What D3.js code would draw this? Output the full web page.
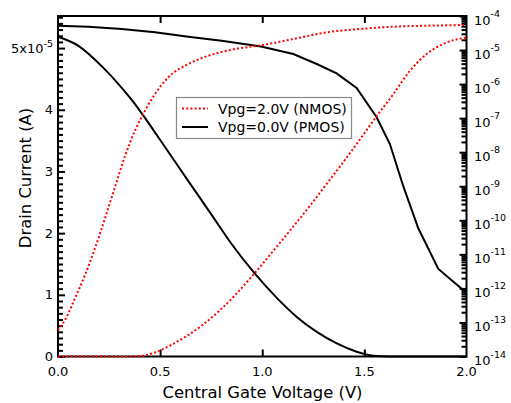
<!DOCTYPE html>
<html lang="en">
<head>
<meta charset="utf-8">
<script src="https://cdn.jsdelivr.net/npm/d3@7"></script>
<style type="text/css">
body {
	margin: 0;
	background-color: #ffffff;
}
svg text {
	font-family: "DejaVu Sans", sans-serif;
	fill: #000;
}
.tick-label { font-size: 13px; }
.sup { font-size: 9.5px; }
.axis-title { font-size: 16.4px; }
.legend-text { font-size: 14px; }
</style>
</head>
<body>
<script type="text/javascript">

// ---- data ----
// NMOS, Vpg = 2.0 V, drain current in A (linear axis)
var nmosLinV = [0, 0.377, 0.426, 0.475, 0.540, 0.622, 0.704, 0.785, 0.867, 0.948, 1.071, 1.152, 1.234, 1.323, 1.414, 1.479, 1.560, 1.642, 1.723, 1.805, 1.903, 2.0];
var nmosLinI = [0, 0, 0.019e-5, 0.065e-5, 0.162e-5, 0.316e-5, 0.502e-5, 0.726e-5, 0.994e-5, 1.294e-5, 1.780e-5, 2.107e-5, 2.446e-5, 2.831e-5, 3.228e-5, 3.522e-5, 3.895e-5, 4.254e-5, 4.632e-5, 4.903e-5, 5.092e-5, 5.17e-5];

// NMOS, Vpg = 2.0 V, drain current in A (log axis)
var nmosLogV = [0, 0.034, 0.083, 0.132, 0.181, 0.230, 0.279, 0.328, 0.377, 0.426, 0.475, 0.540, 0.638, 0.736, 0.867, 0.994, 1.152, 1.316, 1.479, 1.642, 1.805, 2.0];
var nmosLogI = [6.0e-14, 1.17e-13, 5.1e-13, 2.45e-12, 1.51e-11, 1.15e-10, 9.5e-10, 7.7e-9, 4.3e-8, 1.66e-7, 5.1e-7, 1.58e-6, 3.9e-6, 6.8e-6, 1.07e-5, 1.38e-5, 2.11e-5, 3.32e-5, 4.15e-5, 4.85e-5, 5.19e-5, 5.45e-5];

// PMOS, Vpg = 0.0 V, drain current in A (linear axis)
var pmosLinV = [0, 0.10, 0.22, 0.31, 0.377, 0.418, 0.508, 0.655, 0.753, 0.850, 0.961, 1.071, 1.169, 1.267, 1.365, 1.462, 1.544, 1.626, 2.0];
var pmosLinI = [5.183e-5, 5.037e-5, 4.687e-5, 4.364e-5, 4.092e-5, 3.904e-5, 3.473e-5, 2.763e-5, 2.293e-5, 1.824e-5, 1.354e-5, 0.950e-5, 0.642e-5, 0.399e-5, 0.212e-5, 0.078e-5, 0.013e-5, 0, 0];

// PMOS, Vpg = 0.0 V, drain current in A (log axis)
var pmosLogV = [0, 0.148, 0.312, 0.475, 0.638, 0.801, 0.994, 1.152, 1.267, 1.364, 1.462, 1.56, 1.625, 1.69, 1.764, 1.862, 1.984, 2.0];
var pmosLogI = [5.19e-5, 4.85e-5, 4.15e-5, 3.32e-5, 2.47e-5, 1.88e-5, 1.27e-5, 7.66e-6, 3.89e-6, 2.07e-6, 7.67e-7, 1.06e-7, 1.74e-8, 1.02e-9, 5.82e-11, 3.72e-12, 8.97e-13, 8.3e-13];

var xTicks = [0, 0.5, 1.0, 1.5, 2.0];
var xTickLabels = ["0.0", "0.5", "1.0", "1.5", "2.0"];
var leftTicks = [0, 1e-5, 2e-5, 3e-5, 4e-5, 5e-5];
var leftTickLabels = ["0", "1", "2", "3", "4", "5x10"];
var rightExponents = [-14, -13, -12, -11, -10, -9, -8, -7, -6, -5, -4];
var legendLabels = ["Vpg=2.0V (NMOS)", "Vpg=0.0V (PMOS)"];

// ---- layout ----
var width = 511, height = 403;
var plotL = 58, plotR = 466.5, plotT = 16, plotB = 356.5;

var svg = d3.select("body").append("svg")
	.attr("width", width)
	.attr("height", height);

var x = d3.scaleLinear().domain([0, 2]).range([plotL, plotR]);
var yLin = d3.scaleLinear().domain([0, 5.52e-5]).range([plotB, plotT]);
var yLog = d3.scaleLog().domain([1e-14, 1e-4]).range([plotB, plotT]);

// minor tick values
var leftMinor = d3.range(0, 56).map(function(i) { return i * 1e-6; })
	.filter(function(v, i) { return i % 10 != 0; });
var rightMinor = [];
rightExponents.slice(0, -1).forEach(function(e) {
	for (var m = 2; m <= 9; m++) rightMinor.push(m * Math.pow(10, e));
});
var rightMajor = rightExponents.map(function(e) { return Math.pow(10, e); });

function styleAxis(g) {
	g.select(".domain").remove();
	g.selectAll(".tick line").attr("stroke", "#000").attr("stroke-width", 2);
	g.selectAll(".tick text").remove();
}

// ticks (all pointing into the plot)
svg.append("g").attr("transform", "translate(" + plotL + ",0)")
	.call(d3.axisLeft(yLin).tickValues(leftTicks).tickSize(-7)).call(styleAxis);
svg.append("g").attr("transform", "translate(" + plotL + ",0)")
	.call(d3.axisLeft(yLin).tickValues(leftMinor).tickSize(-5)).call(styleAxis);
svg.append("g").attr("transform", "translate(" + plotR + ",0)")
	.call(d3.axisRight(yLog).tickValues(rightMajor).tickSize(-7)).call(styleAxis);
svg.append("g").attr("transform", "translate(" + plotR + ",0)")
	.call(d3.axisRight(yLog).tickValues(rightMinor).tickSize(-5)).call(styleAxis);
svg.append("g").attr("transform", "translate(0," + plotB + ")")
	.call(d3.axisBottom(x).tickValues([0.5, 1.0, 1.5]).tickSize(-7)).call(styleAxis);
svg.append("g").attr("transform", "translate(0," + plotT + ")")
	.call(d3.axisTop(x).tickValues([0.5, 1.0, 1.5]).tickSize(-7)).call(styleAxis);

// frame
svg.append("rect")
	.attr("x", plotL).attr("y", plotT)
	.attr("width", plotR - plotL).attr("height", plotB - plotT)
	.attr("fill", "none").attr("stroke", "#000").attr("stroke-width", 2);

// tick labels
svg.selectAll(".xlab").data(xTicks).enter().append("text")
	.attr("class", "tick-label")
	.attr("x", function(d) { return x(d); })
	.attr("y", plotB + 19.5)
	.attr("text-anchor", "middle")
	.text(function(d, i) { return xTickLabels[i]; });

var ll = svg.selectAll(".ylab").data(leftTicks).enter().append("text")
	.attr("class", "tick-label")
	.attr("x", plotL - 5)
	.attr("y", function(d) { return yLin(d) + 4.5; })
	.attr("text-anchor", "end")
	.text(function(d, i) { return leftTickLabels[i]; });
ll.filter(function(d) { return d == 5e-5; })
	.append("tspan").attr("class", "sup").attr("dy", -6).text("-5");

var rl = svg.selectAll(".rlab").data(rightExponents).enter().append("text")
	.attr("class", "tick-label")
	.attr("x", plotR + 7.5)
	.attr("y", function(d) { return yLog(Math.pow(10, d)) + 8.5; })
	.text("10");
rl.append("tspan").attr("class", "sup").attr("dy", -7.5).text(function(d) { return d; });

// axis titles
svg.append("text").attr("class", "axis-title")
	.attr("x", 262.5).attr("y", 398)
	.attr("text-anchor", "middle")
	.text("Central Gate Voltage (V)");
svg.append("text").attr("class", "axis-title")
	.attr("transform", "translate(31,178) rotate(-90)")
	.attr("text-anchor", "middle")
	.text("Drain Current (A)");

// curves
var lineLin = d3.line().x(function(d) { return x(d[0]); }).y(function(d) { return yLin(d[1]); });
var lineLog = d3.line().x(function(d) { return x(d[0]); }).y(function(d) { return yLog(d[1]); });

function pairs(vs, is) { return vs.map(function(v, i) { return [v, is[i]]; }); }

var dotted = "2,2.2";

svg.append("path")
	.attr("d", lineLin.curve(d3.curveMonotoneX)(pairs(pmosLinV, pmosLinI)))
	.attr("fill", "none").attr("stroke", "#000").attr("stroke-width", 2);
svg.append("path")
	.attr("d", lineLog.curve(d3.curveLinear)(pairs(pmosLogV, pmosLogI)))
	.attr("fill", "none").attr("stroke", "#000").attr("stroke-width", 2);
svg.append("path")
	.attr("d", lineLin.curve(d3.curveMonotoneX)(pairs(nmosLinV, nmosLinI)))
	.attr("fill", "none").attr("stroke", "#ff0000").attr("stroke-width", 2)
	.attr("stroke-dasharray", dotted);
svg.append("path")
	.attr("d", lineLog.curve(d3.curveMonotoneX)(pairs(nmosLogV, nmosLogI)))
	.attr("fill", "none").attr("stroke", "#ff0000").attr("stroke-width", 2)
	.attr("stroke-dasharray", dotted);

// legend
var legend = svg.append("g");
legend.append("rect")
	.attr("x", 176.5).attr("y", 97.5)
	.attr("width", 175).attr("height", 41)
	.attr("fill", "#fff").attr("stroke", "#8a8a8a").attr("stroke-width", 1.2);

legend.selectAll(".lg").data(legendLabels).enter().append("line")
	.attr("x1", 182).attr("x2", 208)
	.attr("y1", function(d, i) { return 108.5 + i * 18.5; })
	.attr("y2", function(d, i) { return 108.5 + i * 18.5; })
	.attr("stroke", function(d, i) { return i == 0 ? "#ff0000" : "#000"; })
	.attr("stroke-width", 2)
	.attr("stroke-dasharray", function(d, i) { return i == 0 ? dotted : null; });

legend.selectAll(".lt").data(legendLabels).enter().append("text")
	.attr("class", "legend-text")
	.attr("x", 218)
	.attr("y", function(d, i) { return 113.5 + i * 18.5; })
	.text(function(d) { return d; });

</script>
</body>
</html>
